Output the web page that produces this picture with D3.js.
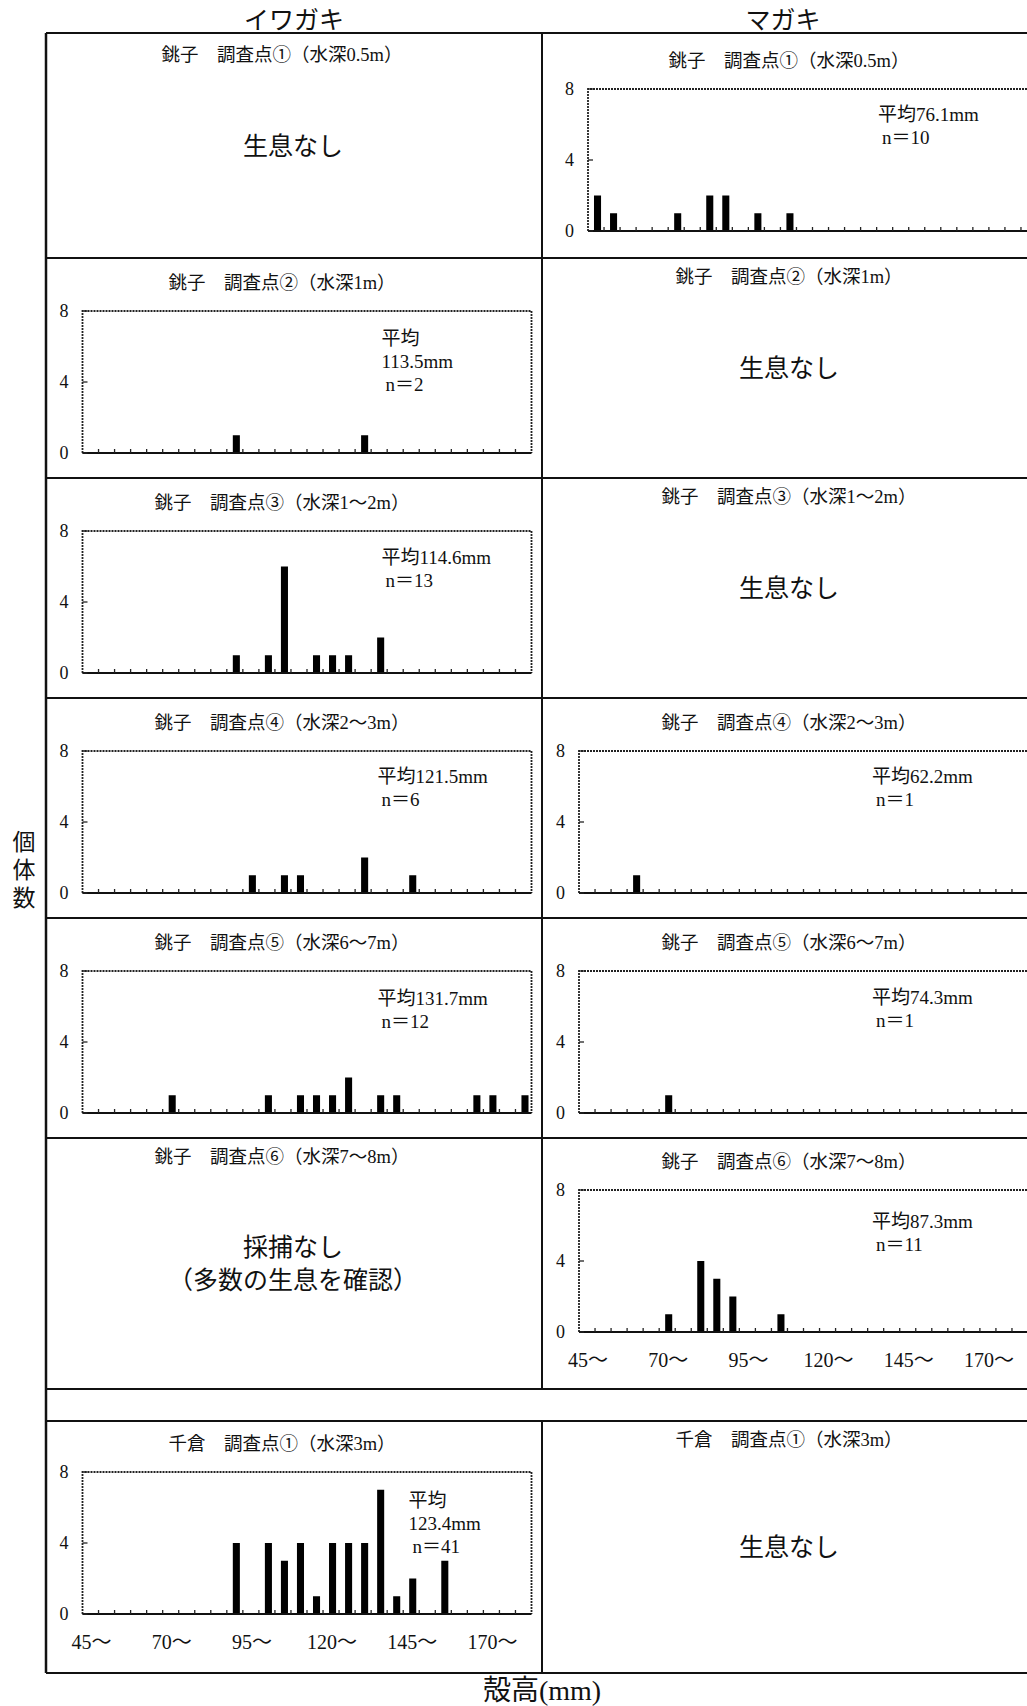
<!DOCTYPE html>
<html>
<head>
<meta charset="utf-8">
<title>殻高組成</title>
<style>
  body { margin: 0; background: #fff; }
  svg { display: block; }
  .grid { stroke: #111; stroke-width: 2; fill: none; }
  .frame { stroke: #222; stroke-width: 1.8; fill: none; stroke-dasharray: 2,1; }
  .base { stroke: #111; stroke-width: 1.8; }
  .tick { stroke: #222; stroke-width: 1.3; }
  .bar { fill: #000; }
  .serif { font-family: 'Liberation Serif', 'Noto Sans CJK JP', serif; fill: #111; }
  .cjk { font-family: 'Noto Sans CJK JP', sans-serif; fill: #111; }
  .vertical { writing-mode: vertical-rl; text-orientation: upright; letter-spacing: 5px; }
</style>
</head>
<body>
<svg id="canvas"></svg>
<script src="https://d3js.org/d3.v7.min.js"></script>
<script>
// shell height classes (mm), 5 mm bins
const binStarts = [45, 50, 55, 60, 65, 70, 75, 80, 85, 90, 95, 100, 105, 110,
                   115, 120, 125, 130, 135, 140, 145, 150, 155, 160, 165, 170, 175, 180];
const xTickLabels = ["45～", "70～", "95～", "120～", "145～", "170～"];
const xTickBins = [45, 70, 95, 120, 145, 170];
const yTicks = [0, 4, 8];
const species = ["イワガキ", "マガキ"];

// counts per bin
const choshi1Magaki   = [2,1,0,0,0,1,0,2,2,0, 1,0,1,0,0,0,0,0,0,0, 0,0,0,0,0,0,0,0];
const choshi2Iwagaki  = [0,0,0,0,0,0,0,0,0,1, 0,0,0,0,0,0,0,1,0,0, 0,0,0,0,0,0,0,0];
const choshi3Iwagaki  = [0,0,0,0,0,0,0,0,0,1, 0,1,6,0,1,1,1,0,2,0, 0,0,0,0,0,0,0,0];
const choshi4Iwagaki  = [0,0,0,0,0,0,0,0,0,0, 1,0,1,1,0,0,0,2,0,0, 1,0,0,0,0,0,0,0];
const choshi4Magaki   = [0,0,0,1,0,0,0,0,0,0, 0,0,0,0,0,0,0,0,0,0, 0,0,0,0,0,0,0,0];
const choshi5Iwagaki  = [0,0,0,0,0,1,0,0,0,0, 0,1,0,1,1,1,2,0,1,1, 0,0,0,0,1,1,0,1];
const choshi5Magaki   = [0,0,0,0,0,1,0,0,0,0, 0,0,0,0,0,0,0,0,0,0, 0,0,0,0,0,0,0,0];
const choshi6Magaki   = [0,0,0,0,0,1,0,4,3,2, 0,0,1,0,0,0,0,0,0,0, 0,0,0,0,0,0,0,0];
const chikura1Iwagaki = [0,0,0,0,0,0,0,0,0,4, 0,4,3,4,1,4,4,4,7,1, 2,0,3,0,0,0,0,0];

const panelTitles = [
  "銚子　調査点①（水深0.5m）",
  "銚子　調査点②（水深1m）",
  "銚子　調査点③（水深1～2m）",
  "銚子　調査点④（水深2～3m）",
  "銚子　調査点⑤（水深6～7m）",
  "銚子　調査点⑥（水深7～8m）",
  "千倉　調査点①（水深3m）"
];

// one entry per cell: row, column (0 = イワガキ, 1 = マガキ), contents
const panels = [
  { row: 0, col: 0, note: ["生息なし"] },
  { row: 0, col: 1, counts: choshi1Magaki, mean: "76.1", n: 10 },
  { row: 1, col: 0, counts: choshi2Iwagaki, mean: "113.5", n: 2, split: true },
  { row: 1, col: 1, note: ["生息なし"] },
  { row: 2, col: 0, counts: choshi3Iwagaki, mean: "114.6", n: 13 },
  { row: 2, col: 1, note: ["生息なし"] },
  { row: 3, col: 0, counts: choshi4Iwagaki, mean: "121.5", n: 6 },
  { row: 3, col: 1, counts: choshi4Magaki, mean: "62.2", n: 1 },
  { row: 4, col: 0, counts: choshi5Iwagaki, mean: "131.7", n: 12 },
  { row: 4, col: 1, counts: choshi5Magaki, mean: "74.3", n: 1 },
  { row: 5, col: 0, note: ["採捕なし", "（多数の生息を確認）"] },
  { row: 5, col: 1, counts: choshi6Magaki, mean: "87.3", n: 11, xlabels: true },
  { row: 6, col: 0, counts: chikura1Iwagaki, mean: "123.4", n: 41, split: true, xlabels: true },
  { row: 6, col: 1, note: ["生息なし"] }
];

const W = 1027, H = 1706;
const dims = { left: 46, mid: 542, right: 1045, plotW: 449, plotH: 142 };
const rowTops = [33, 258, 478, 698, 918, 1138, 1421];
const rowBottoms = [258, 478, 698, 918, 1138, 1389, 1673];
const gapTop = 1389;

// small per-panel layout tweaks (pixels)
const layoutTweak = {
  "0-1": { plotLeft: 588, top: 3, annX: 290, annY: 32 },
  "1-0": { annX: 299, annY: 34 },
  "2-0": { annX: 299, annY: 33 },
  "3-0": { annX: 295, annY: 32 },
  "3-1": { annX: 293, annY: 32 },
  "4-0": { annX: 295, annY: 34 },
  "4-1": { annX: 293, annY: 33 },
  "5-1": { annX: 293, annY: 38, top: -1 },
  "6-0": { annX: 326, annY: 35, top: -2 }
};

const svg = d3.select("#canvas").attr("width", W).attr("height", H);

// --- grid of cells
const grid = svg.append("g");
rowTops.concat(rowBottoms).forEach(t => grid.append("line").attr("class", "grid")
  .attr("x1", dims.left).attr("x2", dims.right).attr("y1", t).attr("y2", t));
grid.append("line").attr("class", "grid").style("stroke-width", 2.5)
  .attr("x1", dims.left).attr("x2", dims.left).attr("y1", rowTops[0]).attr("y2", rowBottoms[6]);
grid.append("line").attr("class", "grid")
  .attr("x1", dims.mid).attr("x2", dims.mid).attr("y1", rowTops[0]).attr("y2", gapTop);
grid.append("line").attr("class", "grid")
  .attr("x1", dims.mid).attr("x2", dims.mid).attr("y1", rowTops[6]).attr("y2", rowBottoms[6]);

// --- column headers
svg.selectAll(".species").data(species).enter().append("text")
  .attr("class", "cjk species")
  .attr("x", (_, i) => i ? 783 : 294)
  .attr("y", 29)
  .attr("text-anchor", "middle")
  .style("font-size", "25px")
  .text(s => s);

// --- axis titles
svg.append("text").attr("class", "cjk vertical")
  .attr("x", 24).attr("y", 830)
  .style("font-size", "23px")
  .text("個体数");

svg.append("text").attr("class", "serif")
  .attr("x", 542).attr("y", 1700).attr("text-anchor", "middle")
  .style("font-size", "28px").text("殻高(mm)");

// --- panels
panels.forEach(p => {
  const key = p.row + "-" + p.col;
  const tw = layoutTweak[key] || {};
  const top = rowTops[p.row];
  const cx = p.col ? 789 : 282;
  const g = svg.append("g");

  if (p.note) {
    g.append("text").attr("class", "serif")
      .attr("x", cx).attr("y", top + (p.row === 0 ? 28 : 25))
      .attr("text-anchor", "middle").style("font-size", "18.5px")
      .text(panelTitles[p.row]);
    const midY = (top + rowBottoms[p.row]) / 2;
    const lh = 33;
    p.note.forEach((t, i) => g.append("text").attr("class", "cjk")
      .attr("x", p.col ? 789 : 293)
      .attr("y", midY + 9 + (i - (p.note.length - 1) / 2) * lh)
      .attr("text-anchor", "middle").style("font-size", "25px").text(t));
    return;
  }

  const plotLeft = tw.plotLeft || (p.col ? 579 : 82.5);
  const plotTop = top + 53 + (tw.top || 0);
  const plotBottom = plotTop + dims.plotH;

  g.append("text").attr("class", "serif")
    .attr("x", cx).attr("y", plotTop - 22)
    .attr("text-anchor", "middle").style("font-size", "18.5px")
    .text(panelTitles[p.row]);

  const x = d3.scaleBand().domain(binStarts)
    .range([plotLeft, plotLeft + dims.plotW])
    .paddingInner(0.56).paddingOuter(0.28);
  const edge = b => x(b) - x.paddingOuter() * x.step();
  const y = d3.scaleLinear().domain([0, 8]).range([plotBottom, plotTop]);

  // frame (dotted top, left, right)
  g.append("path").attr("class", "frame")
    .attr("d", d3.line()([[plotLeft, plotBottom], [plotLeft, plotTop],
      [plotLeft + dims.plotW, plotTop], [plotLeft + dims.plotW, plotBottom]]));

  // bars
  g.selectAll(".bar").data(binStarts.map((b, i) => ({ b, v: p.counts[i] })).filter(d => d.v > 0))
    .enter().append("rect").attr("class", "bar")
    .attr("x", d => x(d.b) + 1.5)
    .attr("width", x.bandwidth())
    .attr("y", d => y(d.v))
    .attr("height", d => y(0) - y(d.v));

  // baseline + bin boundary ticks
  g.append("line").attr("class", "base")
    .attr("x1", plotLeft).attr("x2", plotLeft + dims.plotW)
    .attr("y1", plotBottom).attr("y2", plotBottom);
  g.selectAll(".bt").data(binStarts.slice(1)).enter().append("line")
    .attr("class", "tick")
    .attr("x1", edge).attr("x2", edge)
    .attr("y1", plotBottom).attr("y2", plotBottom - 4);

  // y axis labels and inward ticks
  g.selectAll(".yl").data(yTicks).enter().append("text")
    .attr("class", "serif")
    .attr("x", plotLeft - 14).attr("y", v => y(v) + 6)
    .attr("text-anchor", "end").style("font-size", "18px")
    .text(v => v);
  g.selectAll(".yt").data(yTicks).enter().append("line")
    .attr("class", "tick")
    .attr("x1", plotLeft).attr("x2", plotLeft + 5)
    .attr("y1", v => y(v)).attr("y2", v => y(v));

  // x labels
  if (p.xlabels) {
    g.selectAll(".xl").data(xTickBins).enter().append("text")
      .attr("class", "serif")
      .attr("x", b => x(b) + x.bandwidth() / 2 + 1)
      .attr("y", plotBottom + 35)
      .attr("text-anchor", "middle").style("font-size", "20px")
      .text((b, i) => xTickLabels[i]);
  }

  // mean / n annotation
  const lines = p.split
    ? ["平均", p.mean + "mm", " n＝" + p.n]
    : ["平均" + p.mean + "mm", " n＝" + p.n];
  const ann = g.append("text").attr("class", "serif").style("font-size", "19px");
  lines.forEach((t, i) => ann.append("tspan")
    .attr("x", plotLeft + tw.annX + (t.startsWith(" ") ? 4 : 0))
    .attr("y", plotTop + tw.annY + i * 23)
    .text(t.trim()));
});
</script>
</body>
</html>
